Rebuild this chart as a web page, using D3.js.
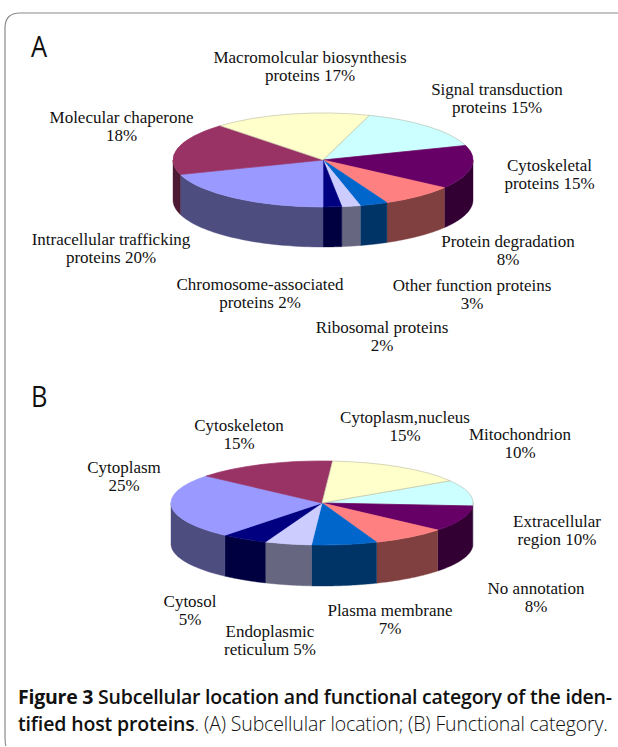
<!DOCTYPE html>
<html>
<head>
<meta charset="utf-8">
<script src="https://cdn.jsdelivr.net/npm/d3@7"></script>
<style>
  html, body { margin: 0; padding: 0; background: #fff; }
  svg { display: block; }
  .lab { font-family: "Liberation Serif", serif; font-size: 17px; fill: #111; }
  .cap { font-family: "Open Sans", sans-serif; font-size: 19.5px; fill: #111; }
</style>
</head>
<body>
<svg id="fig" width="618" height="747"></svg>
<script>
// slice values, clockwise, first slice starts at the given angle (deg from north)
const valuesA = [15, 15, 8, 3, 2, 2, 20, 18, 17];
const namesA = [
  ["Signal transduction", "proteins 15%"],
  ["Cytoskeletal", "proteins  15%"],
  ["Protein degradation", "8%"],
  ["Other function proteins", "3%"],
  ["Ribosomal proteins", "2%"],
  ["Chromosome-associated", "proteins 2%"],
  ["Intracellular trafficking", "proteins 20%"],
  ["Molecular chaperone", "18%"],
  ["Macromolcular biosynthesis", "proteins 17%"]
];
const valuesB = [10, 10, 8, 7, 5, 5, 25, 15, 15];
const namesB = [
  ["Mitochondrion", "10%"],
  ["Extracellular", "region 10%"],
  ["No annotation", "8%"],
  ["Plasma membrane", "7%"],
  ["Endoplasmic", "reticulum 5%"],
  ["Cytosol", "5%"],
  ["Cytoplasm", "25%"],
  ["Cytoskeleton", "15%"],
  ["Cytoplasm,nucleus", "15%"]
];
const topColors = ["#ccffff", "#660066", "#ff8080", "#0066cc", "#ccccff", "#000080", "#9999ff", "#993366", "#ffffcc"];
const sideColors = ["#66807f", "#330033", "#804040", "#003366", "#666680", "#000040", "#4d4d80", "#4d1a33", "#80805f"];
// the pale slices have a faint grey rim in the scan
const edgeColors = ["#b4c4b8", "#660066", "#ff8080", "#0066cc", "#ccccff", "#000080", "#9999ff", "#993366", "#c4c4a8"];

// label baselines, same order as the values
const labelPosA = [[497, 95], [549.5, 171], [508, 247], [472, 291], [382, 333], [260, 290], [111, 245], [121.5, 123], [310, 63]];
const labelPosB = [[520, 440], [557, 527], [536, 594], [390, 616], [270, 637], [190, 607], [124, 473], [239, 431], [405, 423]];

const svg = d3.select("#fig");

// panel frame, open on the right
svg.append("path")
  .attr("d", "M618,13H20Q5,13 5,28V732Q5,745 6,746")
  .attr("fill", "none").attr("stroke", "#8a8a8a").attr("stroke-width", 1.2);

function pie3d(values, names, labelPos, cx, cy, rx, ry, depth, start) {
  const g = svg.append("g").attr("transform", `translate(${cx},${cy})`).style("filter", "blur(0.5px)");
  const rad = d3.scaleLinear().domain([0, 360]).range([0, 2 * Math.PI]);
  const arcs = d3.pie().sort(null).value(d => d)
    .startAngle(rad(start)).endAngle(rad(start + 360))(values);

  // point on the rim of the flattened disc
  const rim = a => { const [x, y] = d3.pointRadial(a, 1); return [x * rx, y * ry]; };

  // side walls: only the part of each slice facing the viewer (90..270 deg)
  const wall = d3.line();
  const lo = rad(90), hi = rad(270);
  arcs.forEach((d, i) => {
    for (const k of [0, 1]) {
      const a0 = Math.max(d.startAngle, lo + k * 2 * Math.PI);
      const a1 = Math.min(d.endAngle, hi + k * 2 * Math.PI);
      if (a1 <= a0) continue;
      const front = d3.range(0, 41).map(t => rim(a0 + (a1 - a0) * t / 40));
      const back = front.map(([x, y]) => [x, y + depth]).reverse();
      g.append("path").attr("d", wall(front.concat(back)) + "Z")
        .attr("fill", sideColors[i]).attr("stroke", sideColors[i]).attr("stroke-width", 0.4);
    }
  });

  // top face
  const arc = d3.arc().innerRadius(0).outerRadius(1);
  g.append("g").attr("transform", `scale(${rx},${ry})`)
    .selectAll("path").data(arcs).join("path")
    .attr("d", arc)
    .attr("fill", (d, i) => topColors[i])
    .attr("stroke", (d, i) => edgeColors[i])
    .attr("stroke-width", 0.7)
    .attr("vector-effect", "non-scaling-stroke");

  names.forEach((lines, i) => {
    const t = svg.append("text").attr("class", "lab").attr("text-anchor", "middle");
    lines.forEach((s, j) => {
      t.append("tspan").attr("x", labelPos[i][0]).attr("y", labelPos[i][1] + j * 17.5).text(s);
    });
  });
}

pie3d(valuesA, namesA, labelPosA, 323, 160, 150, 47, 40, 18);
pie3d(valuesB, namesB, labelPosB, 322, 503, 151, 42, 41, 58);

// panel letters
svg.append("text").attr("transform", "translate(31,57) scale(0.85,1)").attr("font-family", "Open Sans, sans-serif").attr("font-size", 30).attr("fill", "#111").text("A");
svg.append("text").attr("transform", "translate(31,407) scale(0.85,1)").attr("font-family", "Open Sans, sans-serif").attr("font-size", 30).attr("fill", "#111").text("B");

// caption
const c1 = svg.append("text").attr("class", "cap").attr("x", 18).attr("y", 704)
  .attr("textLength", 594).attr("lengthAdjust", "spacing");
c1.append("tspan").attr("font-weight", 700).text("Figure 3");
c1.append("tspan").attr("font-weight", 600).text(" Subcellular location and functional category of the iden-");
const c2 = svg.append("text").attr("class", "cap").attr("x", 18).attr("y", 731)
  .attr("textLength", 590).attr("lengthAdjust", "spacing");
c2.append("tspan").attr("font-weight", 600).text("tified host proteins");
c2.append("tspan").attr("font-weight", 300).text(". (A) Subcellular location; (B) Functional category.");
</script>
</body>
</html>
